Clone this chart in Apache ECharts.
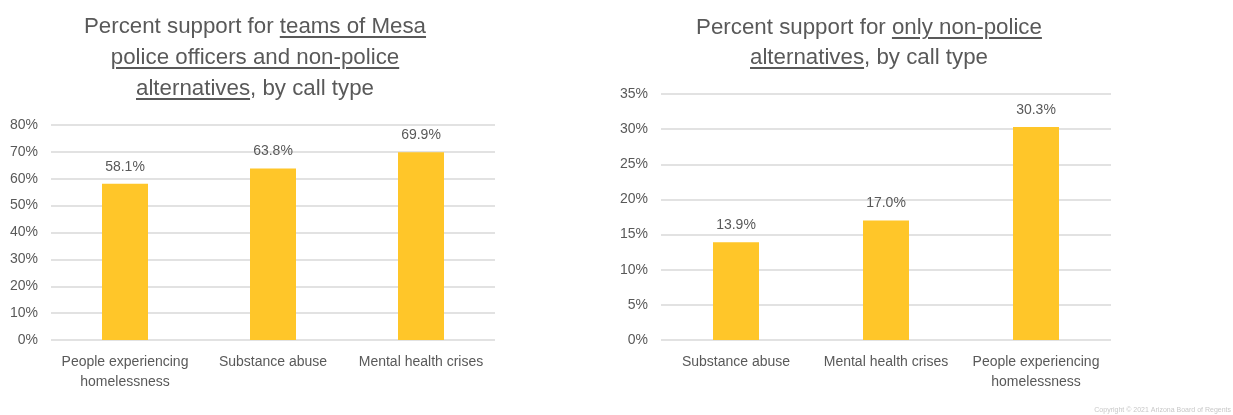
<!DOCTYPE html>
<html>
<head>
<meta charset="utf-8">
<title>Percent support by call type</title>
<script src="https://cdn.jsdelivr.net/npm/echarts@6/dist/echarts.min.js"></script>
<style>
html, body { margin: 0; padding: 0; background: #fff; }
#wrap { position: relative; width: 1233px; height: 415px; }
#chart { position: absolute; left: 0; top: 0; width: 1233px; height: 415px; }
.tit {
  position: absolute;
  margin: 0;
  text-align: center;
  font-family: "Liberation Sans", Arial, sans-serif;
  font-size: 22.3px;
  line-height: 31px;
  color: #595959;
}
.tit u { text-decoration-thickness: 1.5px; text-underline-offset: 3px; }
#tit1 { left: 0; width: 510px; top: 10px; }
#tit2 { left: 620px; width: 498px; top: 12px; line-height: 30px; }
</style>
</head>
<body>
<div id="wrap">
  <div id="chart"></div>
  <p class="tit" id="tit1">Percent support for <u>teams of Mesa</u><br><u>police officers and non-police</u><br><u>alternatives</u>, by call type</p>
  <p class="tit" id="tit2">Percent support for <u>only non-police</u><br><u>alternatives</u>, by call type</p>
</div>
<script>
// 左图：警察+非警察团队
const leftCategories = ['People experiencing\nhomelessness', 'Substance abuse', 'Mental health crises'];
const leftValues = [58.1, 63.8, 69.9];
const leftMax = 80, leftStep = 10;

// 右图：仅非警察
const rightCategories = ['Substance abuse', 'Mental health crises', 'People experiencing\nhomelessness'];
const rightValues = [13.9, 17.0, 30.3];
const rightMax = 35, rightStep = 5;

const copyright = 'Copyright © 2021 Arizona Board of Regents';

const font = '"Liberation Sans", Arial, sans-serif';
const textColor = '#595959';
const barColor = '#FFC629';

function xAxisOf(idx, cats) {
  return {
    type: 'category',
    gridIndex: idx,
    data: cats,
    axisLine: { show: false },
    axisTick: { show: false },
    axisLabel: {
      color: textColor, fontSize: 14, fontFamily: font,
      margin: 12, lineHeight: 20, interval: 0
    }
  };
}

function yAxisOf(idx, max, step) {
  return {
    type: 'value',
    gridIndex: idx,
    min: 0,
    max: max,
    interval: step,
    axisLine: { show: false },
    axisTick: { show: false },
    splitLine: { lineStyle: { color: '#d9d9d9', width: 1.5 } },
    axisLabel: {
      color: textColor, fontSize: 14, fontFamily: font, margin: 13,
      formatter: '{value}%'
    }
  };
}

function barOf(idx, values) {
  return {
    type: 'bar',
    xAxisIndex: idx,
    yAxisIndex: idx,
    data: values,
    barWidth: 46,
    itemStyle: { color: barColor },
    label: {
      show: true,
      position: 'top',
      distance: 10,
      color: textColor, fontSize: 14, fontFamily: font,
      formatter: p => p.value.toFixed(1) + '%'
    },
    animation: false
  };
}

let myChart = echarts.init(document.getElementById('chart'));
myChart.setOption({
  backgroundColor: '#fff',
  textStyle: { fontFamily: font },
  grid: [
    { left: 51, right: 738, top: 125, bottom: 75 },
    { left: 661, right: 122, top: 94, bottom: 75 }
  ],
  xAxis: [xAxisOf(0, leftCategories), xAxisOf(1, rightCategories)],
  yAxis: [yAxisOf(0, leftMax, leftStep), yAxisOf(1, rightMax, rightStep)],
  series: [barOf(0, leftValues), barOf(1, rightValues)],
  graphic: [{
    type: 'text',
    right: 2,
    bottom: 1,
    style: { text: copyright, fill: '#c8c8c8', fontSize: 7, fontFamily: font }
  }]
});
</script>
</body>
</html>
